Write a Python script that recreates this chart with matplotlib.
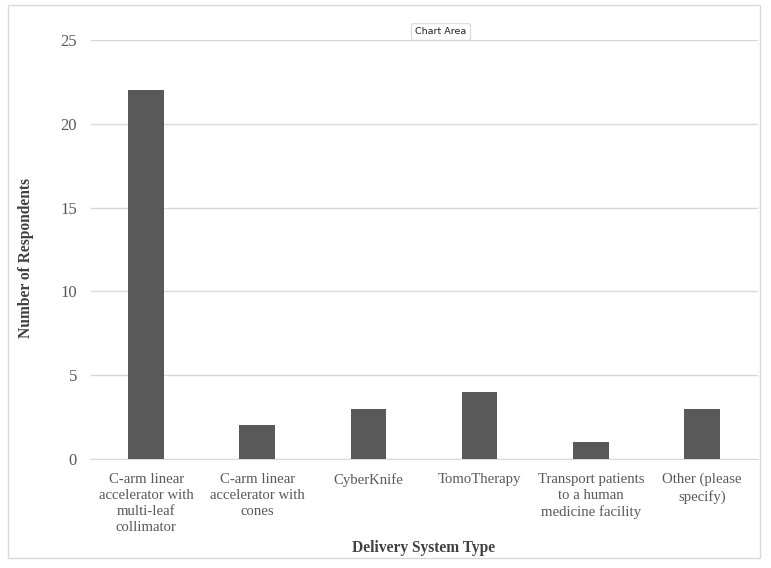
import matplotlib.pyplot as plt
from matplotlib.patches import Rectangle

categories = [
    "C-arm linear\naccelerator with\nmulti-leaf\ncollimator",
    "C-arm linear\naccelerator with\ncones",
    "CyberKnife",
    "TomoTherapy",
    "Transport patients\nto a human\nmedicine facility",
    "Other (please\nspecify)",
]
respondents = [22, 2, 3, 4, 1, 3]
y_ticks = [0, 5, 10, 15, 20, 25]

plt.rcParams["font.family"] = ["Liberation Serif", "DejaVu Serif"]

W, H = 771, 568
fig = plt.figure(figsize=(W / 100, H / 100), dpi=100)

# plot area in pixel coords
left, right, top, bottom = 90.5, 757.5, 40, 459
ax = fig.add_axes([left / W, 1 - bottom / H, (right - left) / W, (bottom - top) / H])

x = range(len(categories))
ax.bar(x, respondents, width=0.32, color="#595959", zorder=3)
ax.set_xlim(-0.5, len(categories) - 0.5)
ax.set_ylim(0, 25)
ax.set_yticks(y_ticks)
ax.set_xticks(list(x))
ax.set_xticklabels(categories, fontsize=10.6, color="#595959", linespacing=1.32)
ax.tick_params(axis="y", labelsize=12, labelcolor="#595959", length=0, pad=9.7)
ax.tick_params(axis="x", length=0, pad=10)
ax.grid(axis="y", color="#d9d9d9", linewidth=1, zorder=0)
for s in ["top", "right", "left"]:
    ax.spines[s].set_visible(False)
ax.spines["bottom"].set_color("#d9d9d9")

fig.text(26 / W, 1 - 258 / H, "Number of Respondents", rotation=90, ha="center", va="center",
         fontsize=11.2, fontweight="bold", color="#404040")
fig.text(424 / W, 1 - 548 / H, "Delivery System Type", ha="center", va="center",
         fontsize=11.2, fontweight="bold", color="#404040")

# chart area border
fig.patches.append(Rectangle((8 / W, 1 - 558 / H), 752 / W, 553 / H, transform=fig.transFigure,
                             fill=False, edgecolor="#d9d9d9", linewidth=1))

# Excel tooltip
fig.text(441 / W, 1 - 32 / H, "Chart Area", ha="center", va="center", fontsize=6.8,
         family=["DejaVu Sans"], color="#222222",
         bbox=dict(boxstyle="round,pad=0.4,rounding_size=0.2", facecolor="white",
                   edgecolor="#cfcfcf", linewidth=0.6))

fig.savefig("out.png", dpi=100)
